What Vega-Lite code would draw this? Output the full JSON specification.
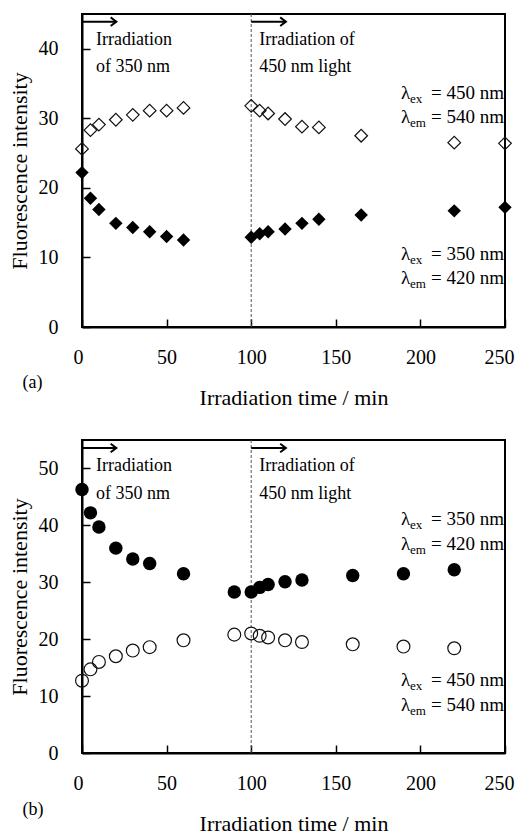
{
  "$schema": "https://vega.github.io/schema/vega-lite/v6.json",
  "background": "white",
  "padding": {"left": 7, "top": 12, "right": 0, "bottom": 4},
  "bounds": "flush",
  "spacing": 113,
  "config": {
    "font": "Liberation Serif, Times New Roman, serif",
    "view": {"stroke": "black", "strokeWidth": 2},
    "axis": {
      "grid": false,
      "domainColor": "black",
      "domainWidth": 2,
      "tickColor": "black",
      "tickWidth": 1.5,
      "tickSize": -8,
      "labelFlush": false,
      "labelOverlap": false,
      "labelFont": "Liberation Serif, Times New Roman, serif",
      "labelFontSize": 20,
      "labelColor": "black",
      "titleFont": "Liberation Serif, Times New Roman, serif",
      "titleFontSize": 22,
      "titleFontWeight": "normal",
      "titleColor": "black"
    },
    "axisX": {"titlePadding": 20, "labelPadding": 28, "labelFlush": true, "labelFlushOffset": 9},
    "axisY": {"titlePadding": 7, "labelPadding": 32},
    "text": {"font": "Liberation Serif, Times New Roman, serif", "color": "black"}
  },
  "datasets": {
    "a_pts": [
      {"x": 0, "y": 22.2, "s": "ex350"}, {"x": 5, "y": 18.5, "s": "ex350"}, {"x": 10, "y": 16.9, "s": "ex350"},
      {"x": 20, "y": 14.9, "s": "ex350"}, {"x": 30, "y": 14.3, "s": "ex350"}, {"x": 40, "y": 13.7, "s": "ex350"},
      {"x": 50, "y": 13.0, "s": "ex350"}, {"x": 60, "y": 12.5, "s": "ex350"}, {"x": 100, "y": 12.9, "s": "ex350"},
      {"x": 105, "y": 13.4, "s": "ex350"}, {"x": 110, "y": 13.7, "s": "ex350"}, {"x": 120, "y": 14.1, "s": "ex350"},
      {"x": 130, "y": 14.9, "s": "ex350"}, {"x": 140, "y": 15.5, "s": "ex350"}, {"x": 165, "y": 16.1, "s": "ex350"},
      {"x": 220, "y": 16.7, "s": "ex350"}, {"x": 250, "y": 17.2, "s": "ex350"},
      {"x": 0, "y": 25.6, "s": "ex450"}, {"x": 5, "y": 28.3, "s": "ex450"}, {"x": 10, "y": 29.1, "s": "ex450"},
      {"x": 20, "y": 29.8, "s": "ex450"}, {"x": 30, "y": 30.5, "s": "ex450"}, {"x": 40, "y": 31.1, "s": "ex450"},
      {"x": 50, "y": 31.1, "s": "ex450"}, {"x": 60, "y": 31.5, "s": "ex450"}, {"x": 100, "y": 31.8, "s": "ex450"},
      {"x": 105, "y": 31.1, "s": "ex450"}, {"x": 110, "y": 30.7, "s": "ex450"}, {"x": 120, "y": 29.9, "s": "ex450"},
      {"x": 130, "y": 28.8, "s": "ex450"}, {"x": 140, "y": 28.7, "s": "ex450"}, {"x": 165, "y": 27.5, "s": "ex450"},
      {"x": 220, "y": 26.5, "s": "ex450"}, {"x": 250, "y": 26.4, "s": "ex450"}
    ],
    "b_pts": [
      {"x": 0, "y": 46.3, "s": "ex350"}, {"x": 5, "y": 42.2, "s": "ex350"}, {"x": 10, "y": 39.7, "s": "ex350"},
      {"x": 20, "y": 36.0, "s": "ex350"}, {"x": 30, "y": 34.1, "s": "ex350"}, {"x": 40, "y": 33.3, "s": "ex350"},
      {"x": 60, "y": 31.5, "s": "ex350"}, {"x": 90, "y": 28.3, "s": "ex350"}, {"x": 100, "y": 28.3, "s": "ex350"},
      {"x": 105, "y": 29.1, "s": "ex350"}, {"x": 110, "y": 29.6, "s": "ex350"}, {"x": 120, "y": 30.1, "s": "ex350"},
      {"x": 130, "y": 30.4, "s": "ex350"}, {"x": 160, "y": 31.2, "s": "ex350"}, {"x": 190, "y": 31.5, "s": "ex350"},
      {"x": 220, "y": 32.2, "s": "ex350"},
      {"x": 0, "y": 12.7, "s": "ex450"}, {"x": 5, "y": 14.7, "s": "ex450"}, {"x": 10, "y": 16.0, "s": "ex450"},
      {"x": 20, "y": 17.0, "s": "ex450"}, {"x": 30, "y": 18.0, "s": "ex450"}, {"x": 40, "y": 18.6, "s": "ex450"},
      {"x": 60, "y": 19.8, "s": "ex450"}, {"x": 90, "y": 20.8, "s": "ex450"}, {"x": 100, "y": 21.0, "s": "ex450"},
      {"x": 105, "y": 20.6, "s": "ex450"}, {"x": 110, "y": 20.3, "s": "ex450"}, {"x": 120, "y": 19.8, "s": "ex450"},
      {"x": 130, "y": 19.5, "s": "ex450"}, {"x": 160, "y": 19.1, "s": "ex450"}, {"x": 190, "y": 18.7, "s": "ex450"},
      {"x": 220, "y": 18.4, "s": "ex450"}
    ],
    "a_dash": [{"x": 100, "y": 0, "y2": 45}],
    "b_dash": [{"x": 100, "y": 0, "y2": 55}],
    "a_arrow": [{"x": 0, "x2": 20.3, "y": 43.9}, {"x": 100, "x2": 120.5, "y": 43.9}],
    "b_arrow": [{"x": 0, "x2": 20.3, "y": 53.6}, {"x": 100, "x2": 120.5, "y": 53.6}],
    "a_notes": [
      {"x": 8.3, "y": 40.5, "t": "Irradiation"}, {"x": 8.3, "y": 36.6, "t": "of 350 nm"},
      {"x": 104.8, "y": 40.5, "t": "Irradiation of"}, {"x": 104.8, "y": 36.6, "t": "450 nm light"},
      {"x": -35.2, "y": -8.7, "t": "(a)"}
    ],
    "b_notes": [
      {"x": 8.3, "y": 49.6, "t": "Irradiation"}, {"x": 8.3, "y": 44.6, "t": "of 350 nm"},
      {"x": 104.8, "y": 49.6, "t": "Irradiation of"}, {"x": 104.8, "y": 44.6, "t": "450 nm light"},
      {"x": -35.2, "y": -10.9, "t": "(b)"}
    ],
    "a_lam": [
      {"x": 188.5, "y": 32.8, "t": "λ", "k": "main"}, {"x": 188.5, "y": 32.8, "t": "ex", "k": "sub"}, {"x": 249.4, "y": 32.8, "t": "= 450 nm", "k": "rest"},
      {"x": 188.5, "y": 29.4, "t": "λ", "k": "main"}, {"x": 188.5, "y": 29.4, "t": "em", "k": "sub"}, {"x": 249.4, "y": 29.4, "t": "= 540 nm", "k": "rest"},
      {"x": 188.5, "y": 9.7, "t": "λ", "k": "main"}, {"x": 188.5, "y": 9.7, "t": "ex", "k": "sub"}, {"x": 249.4, "y": 9.7, "t": "= 350 nm", "k": "rest"},
      {"x": 188.5, "y": 6.2, "t": "λ", "k": "main"}, {"x": 188.5, "y": 6.2, "t": "em", "k": "sub"}, {"x": 249.4, "y": 6.2, "t": "= 420 nm", "k": "rest"}
    ],
    "b_lam": [
      {"x": 188.5, "y": 40.0, "t": "λ", "k": "main"}, {"x": 188.5, "y": 40.0, "t": "ex", "k": "sub"}, {"x": 249.4, "y": 40.0, "t": "= 350 nm", "k": "rest"},
      {"x": 188.5, "y": 35.6, "t": "λ", "k": "main"}, {"x": 188.5, "y": 35.6, "t": "em", "k": "sub"}, {"x": 249.4, "y": 35.6, "t": "= 420 nm", "k": "rest"},
      {"x": 188.5, "y": 11.8, "t": "λ", "k": "main"}, {"x": 188.5, "y": 11.8, "t": "ex", "k": "sub"}, {"x": 249.4, "y": 11.8, "t": "= 450 nm", "k": "rest"},
      {"x": 188.5, "y": 7.4, "t": "λ", "k": "main"}, {"x": 188.5, "y": 7.4, "t": "em", "k": "sub"}, {"x": 249.4, "y": 7.4, "t": "= 540 nm", "k": "rest"}
    ]
  },
  "vconcat": [
    {
      "width": 423,
      "height": 313,
      "encoding": {
        "x": {"field": "x", "type": "quantitative", "scale": {"domain": [0, 250], "nice": false, "zero": false},
              "axis": {"values": [0, 50, 100, 150, 200, 250], "title": "Irradiation time / min"}},
        "y": {"field": "y", "type": "quantitative", "scale": {"domain": [0, 45], "nice": false, "zero": false},
              "axis": {"values": [0, 10, 20, 30, 40], "title": "Fluorescence intensity"}}
      },
      "layer": [
        {"data": {"name": "a_dash"}, "mark": {"type": "rule", "color": "#555", "strokeDash": [3, 2], "strokeWidth": 1},
         "encoding": {"y2": {"field": "y2"}}},
        {"data": {"name": "a_arrow"}, "mark": {"type": "rule", "color": "black", "strokeWidth": 2},
         "encoding": {"x2": {"field": "x2"}}},
        {"data": {"name": "a_arrow"}, "mark": {"type": "point", "shape": "M-1,-0.75L0,0L-1,0.75", "filled": false, "stroke": "black", "strokeWidth": 2, "size": 130, "opacity": 1},
         "encoding": {"x": {"field": "x2", "type": "quantitative"}}},
        {"data": {"name": "a_pts"}, "transform": [{"filter": "datum.s == 'ex450'"}],
         "mark": {"type": "point", "shape": "diamond", "filled": false, "stroke": "#111", "strokeWidth": 1.2, "size": 160, "opacity": 1}},
        {"data": {"name": "a_pts"}, "transform": [{"filter": "datum.s == 'ex350'"}],
         "mark": {"type": "point", "shape": "diamond", "filled": true, "color": "black", "size": 180, "opacity": 1}},
        {"data": {"name": "a_notes"}, "mark": {"type": "text", "align": "left", "baseline": "alphabetic", "fontSize": 18},
         "encoding": {"text": {"field": "t"}}},
        {"data": {"name": "a_lam"}, "transform": [{"filter": "datum.k == 'main'"}],
         "mark": {"type": "text", "align": "left", "baseline": "alphabetic", "fontSize": 19},
         "encoding": {"text": {"field": "t"}}},
        {"data": {"name": "a_lam"}, "transform": [{"filter": "datum.k == 'sub'"}],
         "mark": {"type": "text", "align": "left", "baseline": "alphabetic", "fontSize": 13, "dx": 9, "dy": 4},
         "encoding": {"text": {"field": "t"}}},
        {"data": {"name": "a_lam"}, "transform": [{"filter": "datum.k == 'rest'"}],
         "mark": {"type": "text", "align": "right", "baseline": "alphabetic", "fontSize": 19},
         "encoding": {"text": {"field": "t"}}}
      ]
    },
    {
      "width": 423,
      "height": 313,
      "encoding": {
        "x": {"field": "x", "type": "quantitative", "scale": {"domain": [0, 250], "nice": false, "zero": false},
              "axis": {"values": [0, 50, 100, 150, 200, 250], "title": "Irradiation time / min"}},
        "y": {"field": "y", "type": "quantitative", "scale": {"domain": [0, 55], "nice": false, "zero": false},
              "axis": {"values": [0, 10, 20, 30, 40, 50], "title": "Fluorescence intensity"}}
      },
      "layer": [
        {"data": {"name": "b_dash"}, "mark": {"type": "rule", "color": "#555", "strokeDash": [3, 2], "strokeWidth": 1},
         "encoding": {"y2": {"field": "y2"}}},
        {"data": {"name": "b_arrow"}, "mark": {"type": "rule", "color": "black", "strokeWidth": 2},
         "encoding": {"x2": {"field": "x2"}}},
        {"data": {"name": "b_arrow"}, "mark": {"type": "point", "shape": "M-1,-0.75L0,0L-1,0.75", "filled": false, "stroke": "black", "strokeWidth": 2, "size": 130, "opacity": 1},
         "encoding": {"x": {"field": "x2", "type": "quantitative"}}},
        {"data": {"name": "b_pts"}, "transform": [{"filter": "datum.s == 'ex450'"}],
         "mark": {"type": "point", "shape": "circle", "filled": false, "stroke": "#111", "strokeWidth": 1.2, "size": 165, "opacity": 1}},
        {"data": {"name": "b_pts"}, "transform": [{"filter": "datum.s == 'ex350'"}],
         "mark": {"type": "point", "shape": "circle", "filled": true, "color": "black", "size": 180, "opacity": 1}},
        {"data": {"name": "b_notes"}, "mark": {"type": "text", "align": "left", "baseline": "alphabetic", "fontSize": 18},
         "encoding": {"text": {"field": "t"}}},
        {"data": {"name": "b_lam"}, "transform": [{"filter": "datum.k == 'main'"}],
         "mark": {"type": "text", "align": "left", "baseline": "alphabetic", "fontSize": 19},
         "encoding": {"text": {"field": "t"}}},
        {"data": {"name": "b_lam"}, "transform": [{"filter": "datum.k == 'sub'"}],
         "mark": {"type": "text", "align": "left", "baseline": "alphabetic", "fontSize": 13, "dx": 9, "dy": 4},
         "encoding": {"text": {"field": "t"}}},
        {"data": {"name": "b_lam"}, "transform": [{"filter": "datum.k == 'rest'"}],
         "mark": {"type": "text", "align": "right", "baseline": "alphabetic", "fontSize": 19},
         "encoding": {"text": {"field": "t"}}}
      ]
    }
  ]
}
